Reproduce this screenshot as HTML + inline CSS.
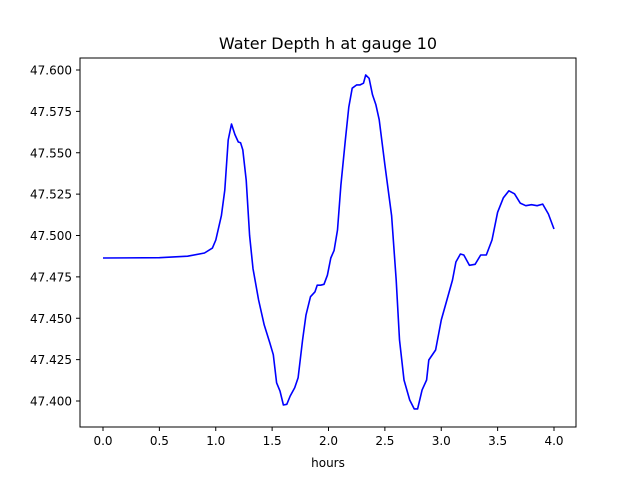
<!DOCTYPE html>
<html><head><meta charset="utf-8">
<style>
body{margin:0;background:#fff;font-family:"Liberation Sans","DejaVu Sans",sans-serif;}
svg text{font-family:"DejaVu Sans","Liberation Sans",sans-serif;}
</style></head>
<body>
<svg id="chart" width="640" height="480" viewBox="0 0 640 480" xmlns="http://www.w3.org/2000/svg">
<rect width="640" height="480" fill="#fff"/>
<text x="328" y="49" text-anchor="middle" font-size="16">Water Depth h at gauge 10</text>
<text x="328" y="467" text-anchor="middle" font-size="12">hours</text>
<g id="ticks"></g>
<path id="series" fill="none" stroke="#0000ff" stroke-width="1.6" stroke-linejoin="round"/>
<rect x="80" y="58" width="496" height="369" fill="none" stroke="#000" stroke-width="1"/>
</svg>
<script>
const hours=[0,0.5,0.75,0.9,0.97,1.0,1.05,1.08,1.11,1.14,1.17,1.2,1.22,1.24,1.27,1.3,1.33,1.38,1.43,1.48,1.51,1.54,1.57,1.6,1.63,1.66,1.7,1.73,1.77,1.8,1.84,1.88,1.9,1.93,1.96,1.99,2.02,2.05,2.08,2.11,2.15,2.18,2.21,2.25,2.28,2.31,2.33,2.36,2.39,2.42,2.45,2.5,2.56,2.6,2.63,2.67,2.72,2.76,2.79,2.83,2.87,2.89,2.95,3.0,3.05,3.1,3.13,3.17,3.2,3.25,3.3,3.35,3.4,3.45,3.5,3.55,3.6,3.65,3.7,3.75,3.8,3.85,3.9,3.95,4.0];
const depth=[47.4864,47.4866,47.4875,47.4894,47.4924,47.4973,47.512,47.5275,47.5577,47.5674,47.561,47.5565,47.556,47.5517,47.5335,47.500,47.480,47.461,47.446,47.435,47.428,47.411,47.406,47.3976,47.398,47.403,47.408,47.414,47.437,47.452,47.463,47.466,47.470,47.470,47.4705,47.476,47.4864,47.491,47.5033,47.5305,47.558,47.5776,47.589,47.591,47.591,47.592,47.597,47.595,47.585,47.579,47.570,47.5426,47.512,47.473,47.437,47.4127,47.4006,47.3952,47.3952,47.4067,47.4127,47.4248,47.4308,47.449,47.461,47.4731,47.484,47.4888,47.4882,47.482,47.4826,47.4882,47.4882,47.4973,47.514,47.5227,47.527,47.5252,47.5196,47.518,47.5186,47.518,47.519,47.513,47.5039];
const xTicks=[0,0.5,1,1.5,2,2.5,3,3.5,4];
const xTickLabels=["0.0","0.5","1.0","1.5","2.0","2.5","3.0","3.5","4.0"];
const yTicks=[47.400,47.425,47.450,47.475,47.500,47.525,47.550,47.575,47.600];
const yTickLabels=yTicks.map(v=>v.toFixed(3));
const X=h=>103+h*112.75;
const Y=v=>70+(47.6-v)*1655;
const NS="http://www.w3.org/2000/svg";
const g=document.getElementById('ticks');
function mk(tag,attrs){const e=document.createElementNS(NS,tag);for(const k in attrs)e.setAttribute(k,attrs[k]);g.appendChild(e);return e;}
xTicks.forEach((t,i)=>{
 const l=mk('line',{x1:X(t),x2:X(t),y1:427,y2:431,stroke:'#000'});
 
 
 const tx=mk('text',{x:X(t),y:445,'text-anchor':'middle','font-size':'12'});
 tx.textContent=xTickLabels[i];
 
 
});
yTicks.forEach((t,i)=>{
 const l=mk('line',{x1:76,x2:80,y1:Y(t),y2:Y(t),stroke:'#000'});
 
 
 const tx=mk('text',{x:72,y:Y(t)+4.5,'text-anchor':'end','font-size':'12'});
 tx.textContent=yTickLabels[i];
 
 
});
document.getElementById('series').setAttribute('d',hours.map((h,i)=>(i?'L':'M')+X(h).toFixed(1)+','+Y(depth[i]).toFixed(1)).join(''));
</script>
</body></html>
